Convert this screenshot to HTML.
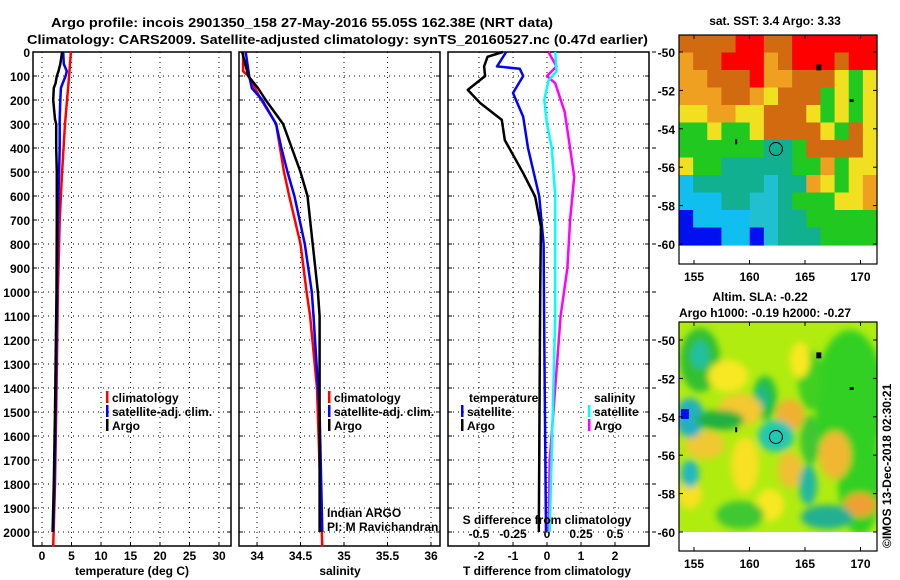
<!DOCTYPE html>
<html><head><meta charset="utf-8"><style>
html,body{margin:0;padding:0;background:#fff;}
svg{display:block;font-family:"Liberation Sans",sans-serif;}
.t{font-weight:bold;font-size:13px;}
.tk{font-weight:bold;font-size:12px;}
</style></head><body>
<svg id="fig" width="900" height="580" viewBox="0 0 900 580">
<text x="51" y="27" class="t" textLength="502" lengthAdjust="spacingAndGlyphs">Argo profile: incois 2901350_158 27-May-2016 55.05S 162.38E (NRT data)</text>
<text x="27" y="44" class="t" textLength="621" lengthAdjust="spacingAndGlyphs">Climatology: CARS2009. Satellite-adjusted climatology: synTS_20160527.nc (0.47d earlier)</text>
<g id="plots"></g>
<g id="maps"></g>
</svg>
<script>
// ---- profile data ----
const depthT = [0,50,80,100,130,150,200,280,300,400,500,700,1000,1500,1800,2000];
const tempArgo = [3.4,3.1,2.8,2.5,2.3,2.0,1.9,2.2,2.4,2.4,2.5,2.5,2.45,2.2,2.0,1.8];
const tempSat  = [3.6,3.7,4.2,4.0,3.5,3.2,3.1,3.0,3.0,3.0,2.9,2.7,2.55,2.3,2.1,1.9];
const depthC = [0,100,300,500,700,1000,1500,1800,2060];
const tempClim = [4.9,4.6,3.9,3.4,3.0,2.7,2.4,2.2,1.9];

const depthS = [0,100,150,200,300,400,500,600,800,1000,1100,1500,2000];
const salArgo = [33.83,33.90,34.01,34.10,34.30,34.40,34.50,34.58,34.64,34.70,34.72,34.72,34.72];
const salSat  = [33.87,33.91,33.94,34.06,34.22,34.28,34.35,34.43,34.55,34.63,34.65,34.72,34.75];
const depthSC = [0,80,100,200,300,500,600,800,1000,1100,1400,2060];
const salClim = [33.84,33.84,33.90,34.05,34.22,34.31,34.37,34.50,34.57,34.61,34.69,34.75];

const depthD = [0,20,60,100,158,212,283,367,505,602,727,1000,1500,2000];
const dTArgo = [-1.3,-1.75,-1.85,-1.82,-2.33,-1.97,-1.33,-1.24,-0.7,-0.35,-0.18,-0.2,-0.22,-0.24];
const depthDS = [0,60,70,100,171,270,400,600,800,1200,2000];
const dTSat = [-1.2,-1.47,-0.8,-0.7,-1.0,-0.7,-0.56,-0.23,-0.1,-0.08,-0.03];
const depthSD = [0,60,100,130,250,400,520,700,900,1100,1400,1700,2000];
const dSArgo = [0.01,0.07,0.0,0.06,0.13,0.17,0.2,0.17,0.15,0.1,0.06,0.02,0.01];
const depthSD2 = [0,80,120,200,300,400,600,1100,2000];
const dSSat = [0.06,0.07,0.01,-0.02,0.0,0.035,0.06,0.06,0.02];

const depthTicks = [0,100,200,300,400,500,600,700,800,900,1000,1100,1200,1300,1400,1500,1600,1700,1800,1900,2000];
const tempTicks = [0,5,10,15,20,25,30];
const salTicks = [34,34.5,35,35.5,36];
const salTickLabels = ["34","34.5","35","35.5","36"];
const dTTicks = [-2,-1,0,1,2];
const dSTicks = [-0.5,-0.25,0,0.25,0.5];
const dSTickLabels = ["-0.5","-0.25","0","0.25","0.5"];

const NS="http://www.w3.org/2000/svg";
const plots=document.getElementById('plots');
function mk(tag,attrs,parent){const e=document.createElementNS(NS,tag);for(const k in attrs)e.setAttribute(k,attrs[k]);(parent||plots).appendChild(e);return e;}
const Y0=52, YB=546;
const yD = d => Y0 + d*0.24;
const xT = v => 42 + v*5.9;
const xS = v => 257 + (v-34)*87;
const xDT = v => 547 + v*34;
const xDS = v => 547 + v*136;

const panels=[{l:33,r:231,name:'temperature-panel'},{l:239,r:440,name:'salinity-panel'},{l:448,r:649,name:'difference-panel'}];
panels.forEach((p,i)=>{
  const g=mk('g',{});
  
  
  const r=mk('rect',{x:p.l,y:Y0,width:p.r-p.l,height:YB-Y0,fill:'#fff',stroke:'#000','stroke-width':1.5},g);
  
  
  depthTicks.forEach(d=>{
    if(d>0) mk('line',{x1:p.l,x2:p.r,y1:yD(d),y2:yD(d),stroke:'#000','stroke-dasharray':'1,4','stroke-width':1},g);
    mk('line',{x1:p.l,x2:p.l+4,y1:yD(d),y2:yD(d),stroke:'#000'},g);
    mk('line',{x1:p.r-4,x2:p.r,y1:yD(d),y2:yD(d),stroke:'#000'},g);
  });
  p.g=g;
});
depthTicks.forEach(d=>{
  const t=mk('text',{x:30,y:yD(d)+5,'text-anchor':'end',class:'tk'});
  t.textContent=d;
  
  
});
function vgrid(g,ticks,fx,labels,ly){
  ticks.forEach((v,i)=>{
    const x=fx(v);
    mk('line',{x1:x,x2:x,y1:Y0,y2:YB,stroke:'#000','stroke-dasharray':'1,4'},g);
    mk('line',{x1:x,x2:x,y1:YB-4,y2:YB,stroke:'#000'},g);
    const t=mk('text',{x:x,y:ly,'text-anchor':'middle',class:'tk'},g);
    t.textContent=labels?labels[i]:v;
    
    
  });
}
vgrid(panels[0].g,tempTicks,xT,null,560);
vgrid(panels[1].g,salTicks,xS,salTickLabels,560);
vgrid(panels[2].g,dTTicks,xDT,null,560);
dSTicks.forEach((v,i)=>{
  const x=xDS(v);
  mk('line',{x1:x,x2:x,y1:YB-4,y2:YB,stroke:'#000'},panels[2].g);
  const t=mk('text',{x:x,y:538,'text-anchor':'middle',class:'tk'},panels[2].g);
  t.textContent=dSTickLabels[i];
  
  
});
function line(xs,ds,fx,col,w,name){
  const pts=xs.map((v,i)=>fx(v).toFixed(1)+','+yD(ds[i]).toFixed(1)).join(' ');
  const l=mk('polyline',{points:pts,fill:'none',stroke:col,'stroke-width':w,'stroke-linejoin':'round'});
  
  
}
line(tempClim,depthC,xT,'#ff0000',2.5,'temp-climatology-line');
line(tempSat,depthT,xT,'#0000ff',2.5,'temp-satellite-line');
line(tempArgo,depthT,xT,'#000',2.5,'temp-argo-line');
line(salClim,depthSC,xS,'#ff0000',2.5,'sal-climatology-line');
line(salSat,depthS,xS,'#0000ff',2.5,'sal-satellite-line');
line(salArgo,depthS,xS,'#000',2.5,'sal-argo-line');
line(dSArgo,depthSD,xDS,'#ff00ff',2.5,'s-diff-argo-line');
line(dSSat,depthSD2,xDS,'#00ffff',2.5,'s-diff-satellite-line');
line(dTSat,depthDS,xDT,'#0000ff',2.5,'t-diff-satellite-line');
line(dTArgo,depthD,xDT,'#000',2.5,'t-diff-argo-line');

function txt(x,y,s,cls,name,anchor,extra){
  const t=mk('text',Object.assign({x:x,y:y,class:cls||'tk','text-anchor':anchor||'start'},extra||{}));
  t.textContent=s;
  
  
  return t;
}
function leg(x,y,col,s,name){
  mk('rect',{x:x,y:y-11,width:2.5,height:12,fill:col});
  txt(x+6,y,s,'tk',name);
}
leg(106,402,'#ff0000','climatology','legend-climatology');
leg(106,416,'#0000ff','satellite-adj. clim.','legend-satellite');
leg(106,430,'#000','Argo','legend-argo');
leg(328,402,'#ff0000','climatology','legend-climatology-2');
leg(328,416,'#0000ff','satellite-adj. clim.','legend-satellite-2');
leg(328,430,'#000','Argo','legend-argo-2');
txt(469,402,'temperature','tk','legend-temperature-heading');
leg(461,416,'#0000ff','satellite','legend-t-satellite');
leg(461,430,'#000','Argo','legend-t-argo');
txt(594,402,'salinity','tk','legend-salinity-heading');
leg(588,416,'#00ffff','satellite','legend-s-satellite');
leg(588,430,'#ff00ff','Argo','legend-s-argo');
txt(327,517,'Indian ARGO','','credit-indian-argo','start',{style:'font-size:12px'});
txt(327,531,'PI: M Ravichandran','','credit-pi','start',{style:'font-size:12px'});
txt(547,524,'S difference from climatology','tk','s-diff-axis-title','middle');
txt(132,575,'temperature (deg C)','tk','x-axis-title-temperature','middle');
txt(340,575,'salinity','tk','x-axis-title-salinity','middle');
txt(547,575,'T difference from climatology','tk','x-axis-title-tdiff','middle');
for(let d=0;d<=2000;d+=200){mk('line',{x1:652,x2:656,y1:yD(d)+0,y2:yD(d),stroke:'#000'});}

// ---- maps ----
const maps=document.getElementById('maps');
const ML=679, MR=877;
const lonTicks=[155,160,165,170];
const latTicks=[-50,-52,-54,-56,-58,-60];
const xLon = v => 694 + (v-155)*11.1;
const sstRows = [
"OOOORROORRRRRR","AOORRRAORRRORR","AAOOORAAOOOYGY","AAAOOAYOOOGYGY",
"YYAAYYOOOYGYGY","GGYGGYOOOOYGOY","GGGGGGTTGOOOOY","YGGTTTTTGGAGYY",
"STTTTTCTTAYGYA","SSSTTCCTGGGYYA","BSSSSCCTTGGGGG","BBBSSBCTTTGGGG"];
const sstColors={R:'#ff0000',O:'#d26a10',A:'#f0a020',Y:'#f0e020',G:'#20c820',T:'#10b090',C:'#20c0d0',S:'#10bff0',B:'#0010f0'};
function drawMap(top,dataBottom,bottom,lat50,lat60,name){
  const g=document.createElementNS(NS,'g');maps.appendChild(g);
  
  
  const yLat = v => lat50 + (-50 - v)*(lat60-lat50)/10;
  mk('rect',{x:ML,y:top,width:MR-ML,height:bottom-top,fill:'#fff'},g);
  return {g,yLat};
}
let m1=drawMap(35,245,264,52,244,'sst-map');
const cw=(MR-ML)/14, ch=(245-35)/12;
sstRows.forEach((row,r)=>{[...row].forEach((c,j)=>{
  const cell=mk('rect',{x:ML+j*cw,y:35+r*ch,width:cw+0.6,height:ch+0.6,fill:sstColors[c]},m1.g);
  
  
});});
let m2=drawMap(322,531,551,340,532,'sla-map');
const defs=mk('defs',{},m2.g);
const f=mk('filter',{id:'bl',x:'-50%',y:'-50%',width:'200%',height:'200%'},defs);
mk('feGaussianBlur',{stdDeviation:3.5},f);
const clip=mk('clipPath',{id:'cp'},defs);
mk('rect',{x:ML,y:322,width:MR-ML,height:210},clip);
const bg=mk('g',{'clip-path':'url(#cp)'},m2.g);
mk('rect',{x:ML,y:322,width:MR-ML,height:210,fill:'#b0ec10'},bg);
const bl=mk('g',{filter:'url(#bl)'},bg);
const blobs=[
[850,400,35,70,'#30d020'],[860,480,22,55,'#30d020'],[810,380,12,30,'#40d020'],
[700,360,20,32,'#30c030'],[700,355,9,14,'#20c0a0'],[765,398,12,22,'#20c040'],[762,398,6,12,'#20b890'],
[728,376,20,16,'#f8e820'],[740,410,22,16,'#f5c830'],[790,415,14,16,'#f0b030'],[800,360,10,18,'#f8e820'],
[705,445,20,14,'#f0c830'],[745,465,14,28,'#f8e020'],[790,470,12,18,'#f0c030'],[835,455,16,24,'#f0b830'],
[860,505,16,12,'#f0a030'],[690,495,12,14,'#f8e020'],[770,505,14,16,'#f8e820'],
[690,418,14,20,'#20b0c0'],[720,420,24,10,'#20b040'],[776,436,18,16,'#20c8b0'],
[690,474,9,14,'#20b8c0'],[827,517,26,12,'#20b090'],[808,485,9,20,'#20b8a0'],[740,515,24,14,'#40c830'],[810,440,10,25,'#40c830']];
blobs.forEach(b=>{
  const e=mk('ellipse',{cx:b[0],cy:b[1],rx:b[2],ry:b[3],fill:b[4]},bl);
  
  
});
mk('rect',{x:681,y:409,width:8,height:10,fill:'#0010e0'},bg);
[[m1,35,264],[m2,322,551]].forEach(([m,t,b])=>{
  mk('rect',{x:ML,y:t,width:MR-ML,height:b-t,fill:'none',stroke:'#000','stroke-width':1.2},m.g);
  latTicks.forEach(v=>{
    const y=m.yLat(v);
    mk('line',{x1:ML,x2:ML+4,y1:y,y2:y,stroke:'#000'},m.g);
    mk('line',{x1:MR-4,x2:MR,y1:y,y2:y,stroke:'#000'},m.g);
    const tx=mk('text',{x:675,y:y+5,'text-anchor':'end',class:'tk'},m.g);
    tx.textContent=v;
    
    
  });
  lonTicks.forEach(v=>{
    const x=xLon(v);
    mk('line',{x1:x,x2:x,y1:t,y2:t+4,stroke:'#000'},m.g);
    mk('line',{x1:x,x2:x,y1:b-4,y2:b,stroke:'#000'},m.g);
    const tx=mk('text',{x:x,y:b+17,'text-anchor':'middle',class:'tk'},m.g);
    tx.textContent=v;
    
    
  });
  const c=mk('circle',{cx:xLon(162.38),cy:m.yLat(-55.05),r:6.5,fill:'none',stroke:'#000','stroke-width':1},m.g);
  
  
  mk('rect',{x:xLon(166.2)-2,y:m.yLat(-50.8)-3,width:5,height:6,fill:'#000'},m.g);
  mk('rect',{x:xLon(169.2)-2,y:m.yLat(-52.5)-1,width:4,height:3,fill:'#000'},m.g);
  mk('rect',{x:xLon(158.8)-1,y:m.yLat(-54.7)-3,width:2,height:5,fill:'#000'},m.g);
});
txt(775,25,'sat. SST: 3.4 Argo: 3.33','tk','sst-map-title','middle');
txt(760,301,'Altim. SLA: -0.22','tk','sla-map-title','middle');
txt(765,317,'Argo h1000: -0.19 h2000: -0.27','tk','sla-map-subtitle','middle');
txt(0,0,'©IMOS 13-Dec-2018 02:30:21','','imos-timestamp','start',{style:'font-size:12px',transform:'translate(891,548) rotate(-90)'});
</script>
</body></html>
